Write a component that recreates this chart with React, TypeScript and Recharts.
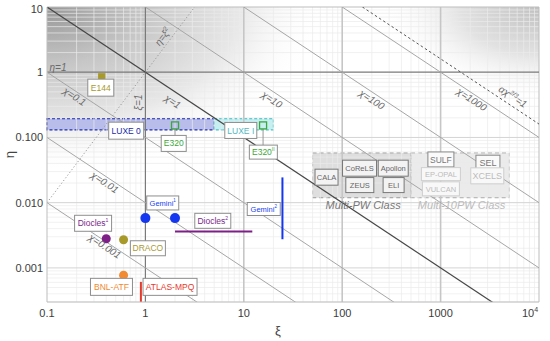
import React from "react";
import {
  ComposedChart,
  XAxis,
  YAxis,
  Scatter,
  ReferenceLine,
  ReferenceArea,
  ReferenceDot,
} from "recharts";

const FONT = "'Liberation Sans', Arial, Helvetica, sans-serif";

// axes
const X_TICKS = [0.1, 1, 10, 100, 1000, 10000];
const Y_TICKS = [0.001, 0.01, 0.1, 1, 10];
const X_DOMAIN = [0.1, 10000];
const Y_DOMAIN = [0.0003, 10];

// grid
const MINOR_STEPS = [2, 3, 4, 5, 6, 7, 8, 9];
const X_DECADES = [0.1, 1, 10, 100, 1000];
const Y_DECADES = [0.0001, 0.001, 0.01, 0.1, 1];
const X_MAJOR = [10, 100, 1000];
const Y_MAJOR = [0.001, 0.01, 0.1];

// iso-chi lines (chi = xi * eta)
const CHI_LINES = [0.001, 0.01, 0.1, 1, 10, 100, 1000];
const CHI_ALPHA = 1604; // alpha chi^(2/3) = 1

// experiments, (xi, eta)
const e144 = [{ x: 0.36, y: 0.85 }];
const e320 = [
  { x: 2, y: 0.153 },
  { x: 15.7, y: 0.153 },
];
const gemini1 = [
  { x: 1, y: 0.0058 },
  { x: 2, y: 0.0058 },
];
const diocles1 = [{ x: 0.4, y: 0.0028 }];
const draco = [{ x: 0.6, y: 0.0027 }];
const bnlAtf = [{ x: 0.6, y: 0.00077 }];
const gemini2 = [
  { x: 24.7, y: 0.00275 },
  { x: 24.7, y: 0.0244 },
];
const diocles2 = [
  { x: 2, y: 0.0036 },
  { x: 12.2, y: 0.0036 },
];
const atlasMpq = [
  { x: 0.9, y: 0.0003 },
  { x: 0.9, y: 0.00061 },
];
const luxe0 = { x1: 0.1, x2: 5, y1: 0.131, y2: 0.194 };
const luxe1 = { x1: 5, x2: 20, y1: 0.131, y2: 0.194 };
const multiPW = { x1: 50, x2: 500, y1: 0.0119, y2: 0.058 };
const multi10PW = { x1: 500, x2: 5000, y1: 0.0119, y2: 0.058 };

type Tag = {
  text: string;
  sup?: string;
  x: number;
  y: number;
  w: number;
  h: number;
  color: string;
  size?: number;
  border?: string;
  fill?: string;
};

const PW = { color: "#666", border: "#777", fill: "#f3f3f3", size: 7.5 };
const PW_DARK = { color: "#777", border: "#888", fill: "#fafafa", size: 8.5 };
const PW_LIGHT = { color: "#bcbcbc", border: "#cfcfcf", fill: "#f8f8f8", size: 7.5 };

const TAGS: Tag[] = [
  { text: "E144", x: 0.352, y: 0.58, w: 26, h: 17, color: "#a89a2a" },
  { text: "LUXE 0", x: 0.638, y: 0.127, w: 35, h: 17, color: "#1a2aa8" },
  { text: "LUXE I", x: 9.32, y: 0.128, w: 32, h: 16, color: "#4fb8c2" },
  { text: "E320", x: 1.94, y: 0.081, w: 25, h: 16, color: "#3aa83a" },
  { text: "E320", sup: "II", x: 15.8, y: 0.0596, w: 28, h: 14, color: "#3aa83a" },
  { text: "Gemini", sup: "1", x: 1.5, y: 0.0099, w: 32, h: 14, color: "#2244ee", size: 7.5 },
  { text: "Gemini", sup: "2", x: 15.95, y: 0.008, w: 33, h: 13, color: "#2244ee", size: 7.5 },
  { text: "Diocles", sup: "2", x: 4.84, y: 0.00527, w: 36, h: 15, color: "#7a2a8a" },
  { text: "Diocles", sup: "1", x: 0.294, y: 0.00483, w: 37, h: 16, color: "#7a2a8a" },
  { text: "DRACO", x: 1.06, y: 0.002, w: 35, h: 15, color: "#a89a30" },
  { text: "BNL-ATF", x: 0.452, y: 0.000512, w: 42, h: 17, color: "#f08a30" },
  { text: "ATLAS-MPQ", x: 1.78, y: 0.000512, w: 54, h: 17, color: "#e8382a" },
  { text: "CALA", x: 69.3, y: 0.0246, w: 23, h: 16, ...PW },
  { text: "CoReLS", x: 150, y: 0.0338, w: 34, h: 16, ...PW },
  { text: "Apollon", x: 330, y: 0.0338, w: 30, h: 16, ...PW },
  { text: "ZEUS", x: 151, y: 0.0186, w: 28, h: 15, ...PW },
  { text: "ELI", x: 333, y: 0.0186, w: 21, h: 15, ...PW },
  { text: "SULF", x: 1007, y: 0.046, w: 26, h: 15, ...PW_DARK },
  { text: "EP-OPAL", x: 1007, y: 0.0274, w: 39, h: 13, ...PW_LIGHT },
  { text: "VULCAN", x: 1007, y: 0.0163, w: 37, h: 14, ...PW_LIGHT },
  { text: "SEL", x: 3027, y: 0.041, w: 24, h: 15, ...PW_DARK, size: 9 },
  { text: "XCELS", x: 2980, y: 0.0258, w: 33, h: 16, ...PW_LIGHT, size: 9 },
];

type Note = {
  pre: string;
  sup?: string;
  post?: string;
  x: number;
  y: number;
  angle: number;
  anchor?: "start" | "middle";
  color?: string;
  size?: number;
};

const NOTES: Note[] = [
  { pre: "χ=0.1", x: 0.191, y: 0.424, angle: 33.6 },
  { pre: "χ=1", x: 1.9, y: 0.356, angle: 33.6 },
  { pre: "χ=10", x: 19.3, y: 0.382, angle: 33.6 },
  { pre: "χ=100", x: 200, y: 0.382, angle: 33.6 },
  { pre: "χ=1000", x: 2075, y: 0.382, angle: 33.6 },
  { pre: "χ=0.01", x: 0.387, y: 0.0205, angle: 33.6 },
  { pre: "χ=0.001", x: 0.387, y: 0.00215, angle: 33.6 },
  { pre: "ξ=1", x: 0.855, y: 0.344, angle: -90 },
  { pre: "η=ξ", sup: "2", x: 1.5, y: 3.51, angle: -53 },
  { pre: "αχ", sup: "2/3", post: "=1", x: 5430, y: 0.424, angle: 33.6 },
  { pre: "η=1", x: 0.106, y: 1.19, angle: 0, anchor: "start" },
  { pre: "Multi-PW Class", x: 163, y: 0.0091, angle: 0, color: "#777", size: 11 },
  { pre: "Multi-10PW Class", x: 1633, y: 0.0091, angle: 0, color: "#bbb", size: 11 },
];

const xMinor = X_DECADES.flatMap((d) => MINOR_STEPS.map((m) => m * d));
const yMinor = Y_DECADES.flatMap((d) => MINOR_STEPS.map((m) => m * d)).filter(
  (v) => v > 0.0003 && v < 10
);

function TagShape({ cx, cy, tag }: { cx: number; cy: number; tag: Tag }) {
  const fs = tag.size ?? 8.5;
  return (
    <g>
      <rect
        x={cx - tag.w / 2}
        y={cy - tag.h / 2}
        width={tag.w}
        height={tag.h}
        fill={tag.fill ?? "#fff"}
        stroke={tag.border ?? "#8e8e8e"}
        strokeWidth={1}
      />
      <text
        x={cx}
        y={cy}
        dy="0.36em"
        textAnchor="middle"
        fontSize={fs}
        fill={tag.color}
        fontFamily={FONT}
      >
        {tag.text}
        {tag.sup && (
          <tspan dy={-4} fontSize={fs * 0.6}>
            {tag.sup}
          </tspan>
        )}
      </text>
    </g>
  );
}

function NoteShape({ cx, cy, note }: { cx: number; cy: number; note: Note }) {
  const fs = note.size ?? 10;
  return (
    <text
      transform={`translate(${cx},${cy}) rotate(${note.angle})`}
      dy="0.35em"
      textAnchor={note.anchor ?? "middle"}
      fontSize={fs}
      fontStyle="italic"
      fill={note.color ?? "#6a6a6a"}
      fontFamily={FONT}
    >
      {note.pre}
      {note.sup && (
        <tspan dy={-4} fontSize={fs * 0.65}>
          {note.sup}
        </tspan>
      )}
      {note.post && <tspan dy={4}>{note.post}</tspan>}
    </text>
  );
}

function XTick(props: any) {
  const { x, y, payload } = props;
  const v = payload.value;
  return (
    <text x={x} y={y + 15} textAnchor="middle" fontSize={11} fill="#3c3c3c" fontFamily={FONT}>
      {v === 10000 ? (
        <>
          10
          <tspan dy={-5} fontSize={7}>
            4
          </tspan>
        </>
      ) : (
        String(v)
      )}
    </text>
  );
}

function YTick(props: any) {
  const { x, y, payload } = props;
  const v = payload.value;
  return (
    <text x={x - 4} y={y} dy="0.36em" textAnchor="end" fontSize={11} fill="#3c3c3c" fontFamily={FONT}>
      {v >= 1 ? String(v) : v.toFixed(3)}
    </text>
  );
}

const square = (fill: string, stroke: string, size: number) => (p: any) => (
  <rect
    x={p.cx - size / 2}
    y={p.cy - size / 2}
    width={size}
    height={size}
    fill={fill}
    stroke={stroke}
    strokeWidth={1.3}
  />
);
const dot = (fill: string, r: number) => (p: any) => <circle cx={p.cx} cy={p.cy} r={r} fill={fill} />;

export default function App() {
  return (
    <div style={{ position: "absolute", left: 0, top: 0, background: "#fff" }}>
      <ComposedChart width={550} height={341} margin={{ top: 7, right: 11, bottom: 1, left: 0 }}>
        <defs>
          <radialGradient id="shadeTL" cx="0" cy="0" r="0.56">
            <stop offset="0" stopColor="#979797" />
            <stop offset="0.35" stopColor="#c6c6c6" />
            <stop offset="0.7" stopColor="#e8e8e8" />
            <stop offset="1" stopColor="#ffffff" stopOpacity={0} />
          </radialGradient>
          <radialGradient id="shadeTR" cx="1" cy="0" r="0.32">
            <stop offset="0" stopColor="#c0c0c0" />
            <stop offset="0.5" stopColor="#e2e2e2" />
            <stop offset="1" stopColor="#ffffff" stopOpacity={0} />
          </radialGradient>
        </defs>

        <XAxis
          type="number"
          dataKey="x"
          scale="log"
          domain={X_DOMAIN}
          allowDataOverflow
          ticks={X_TICKS}
          tick={<XTick />}
          tickLine={false}
          tickSize={0}
          tickMargin={0}
          axisLine={{ stroke: "#bdbdbd" }}
          height={38}
          label={{
            content: (p: any) => (
              <text
                x={p.viewBox.x + p.viewBox.width / 2 - 15}
                y={p.viewBox.y + 33}
                textAnchor="middle"
                fontSize={13}
                fill="#444"
                fontFamily={FONT}
              >
                ξ
              </text>
            ),
          }}
        />
        <YAxis
          type="number"
          dataKey="y"
          scale="log"
          domain={Y_DOMAIN}
          allowDataOverflow
          ticks={Y_TICKS}
          tick={<YTick />}
          tickLine={false}
          tickSize={0}
          tickMargin={0}
          axisLine={{ stroke: "#bdbdbd" }}
          width={47}
          label={{
            content: (p: any) => {
              const lx = p.viewBox.x + 14;
              const ly = p.viewBox.y + p.viewBox.height / 2;
              return (
                <text
                  x={lx}
                  y={ly}
                  transform={`rotate(-90 ${lx} ${ly})`}
                  textAnchor="middle"
                  fontSize={13}
                  fill="#444"
                  fontFamily={FONT}
                >
                  η
                </text>
              );
            },
          }}
        />

        {/* background shading */}
        <ReferenceArea x1={X_DOMAIN[0]} x2={X_DOMAIN[1]} y1={Y_DOMAIN[0]} y2={Y_DOMAIN[1]} fill="url(#shadeTL)" fillOpacity={1} ifOverflow="visible" />
        <ReferenceArea x1={X_DOMAIN[0]} x2={X_DOMAIN[1]} y1={Y_DOMAIN[0]} y2={Y_DOMAIN[1]} fill="url(#shadeTR)" fillOpacity={1} ifOverflow="visible" />

        {/* minor grid */}
        {xMinor.map((v) => (
          <ReferenceLine key={`xm${v}`} x={v} stroke="#ebebeb" strokeWidth={0.7} />
        ))}
        {yMinor.map((v) => (
          <ReferenceLine key={`ym${v}`} y={v} stroke="#ebebeb" strokeWidth={0.7} />
        ))}
        {Y_MAJOR.map((v) => (
          <ReferenceLine key={`yM${v}`} y={v} stroke="#d4d4d4" strokeWidth={1} />
        ))}
        {X_MAJOR.map((v) => (
          <ReferenceLine key={`xM${v}`} x={v} stroke="#c6c6c6" strokeWidth={1.6} />
        ))}

        {/* LUXE bands */}
        <ReferenceArea {...luxe0} fill="#b9bde9" fillOpacity={1} stroke="#1f2fb0" strokeDasharray="3 2" strokeWidth={1.2} />
        <ReferenceArea {...luxe1} fill="#c7eef0" fillOpacity={1} stroke="#44c2ca" strokeDasharray="3 2" strokeWidth={1.2} />

        {/* laser classes */}
        <ReferenceArea {...multiPW} fill="#d6d6d6" fillOpacity={0.8} stroke="#9a9a9a" strokeDasharray="4 3" strokeWidth={1} />
        <ReferenceArea {...multi10PW} fill="#e6e6e6" fillOpacity={0.8} stroke="#aaaaaa" strokeDasharray="4 3" strokeWidth={1} />

        {/* frame */}
        <ReferenceLine y={Y_DOMAIN[1]} stroke="#bdbdbd" />
        <ReferenceLine x={X_DOMAIN[1]} stroke="#bdbdbd" />

        {/* reference lines */}
        <ReferenceLine y={1} stroke="#7a7a7a" strokeWidth={1.2} />
        <ReferenceLine x={1} stroke="#7a7a7a" strokeWidth={1.2} />
        {CHI_LINES.map((c) => (
          <ReferenceLine
            key={`chi${c}`}
            segment={[
              { x: X_DOMAIN[0], y: c / X_DOMAIN[0] },
              { x: X_DOMAIN[1], y: c / X_DOMAIN[1] },
            ]}
            stroke={c === 1 ? "#474747" : "#a6a6a6"}
            strokeWidth={c === 1 ? 1.2 : 1}
            ifOverflow="hidden"
          />
        ))}
        <ReferenceLine
          segment={[
            { x: 0.1, y: 0.01 },
            { x: Math.sqrt(10), y: 10 },
          ]}
          stroke="#9a9a9a"
          strokeDasharray="1.2 2.2"
          strokeWidth={1}
          ifOverflow="hidden"
        />
        <ReferenceLine
          segment={[
            { x: CHI_ALPHA / 10, y: 10 },
            { x: 10000, y: CHI_ALPHA / 10000 },
          ]}
          stroke="#555"
          strokeDasharray="2.5 2.5"
          strokeWidth={1}
          ifOverflow="hidden"
        />

        {/* experiment ranges */}
        <ReferenceLine segment={gemini2} stroke="#1536f0" strokeWidth={2} ifOverflow="visible" />
        <ReferenceLine segment={diocles2} stroke="#7d1f86" strokeWidth={2} ifOverflow="visible" />
        <ReferenceLine segment={atlasMpq} stroke="#e8382a" strokeWidth={2} ifOverflow="visible" />

        {/* tag connectors */}
        <ReferenceLine segment={[{ x: 2, y: 0.1345 }, { x: 2, y: 0.107 }]} stroke="#999" ifOverflow="visible" />
        <ReferenceLine segment={[{ x: 15.7, y: 0.1345 }, { x: 15.7, y: 0.0755 }]} stroke="#999" ifOverflow="visible" />

        {/* markers */}
        <Scatter data={e144} dataKey="y" shape={square("#a89a2a", "#a89a2a", 6)} isAnimationActive={false} />
        <Scatter data={e320} dataKey="y" shape={square("none", "#3aa83a", 7)} isAnimationActive={false} />
        <Scatter data={gemini1} dataKey="y" shape={dot("#1536f0", 5)} isAnimationActive={false} />
        <Scatter data={diocles1} dataKey="y" shape={dot("#7d1f86", 4.5)} isAnimationActive={false} />
        <Scatter data={draco} dataKey="y" shape={dot("#a89a2a", 4.5)} isAnimationActive={false} />
        <Scatter data={bnlAtf} dataKey="y" shape={dot("#f28a32", 4.5)} isAnimationActive={false} />

        {/* annotations */}
        {NOTES.map((n) => (
          <ReferenceDot
            key={`n${n.pre}${n.x}`}
            x={n.x}
            y={n.y}
            r={0}
            ifOverflow="visible"
            shape={(p: any) => <NoteShape cx={p.cx} cy={p.cy} note={n} />}
          />
        ))}
        {TAGS.map((t) => (
          <ReferenceDot
            key={`t${t.text}${t.x}`}
            x={t.x}
            y={t.y}
            r={0}
            ifOverflow="visible"
            shape={(p: any) => <TagShape cx={p.cx} cy={p.cy} tag={t} />}
          />
        ))}
      </ComposedChart>
    </div>
  );
}
